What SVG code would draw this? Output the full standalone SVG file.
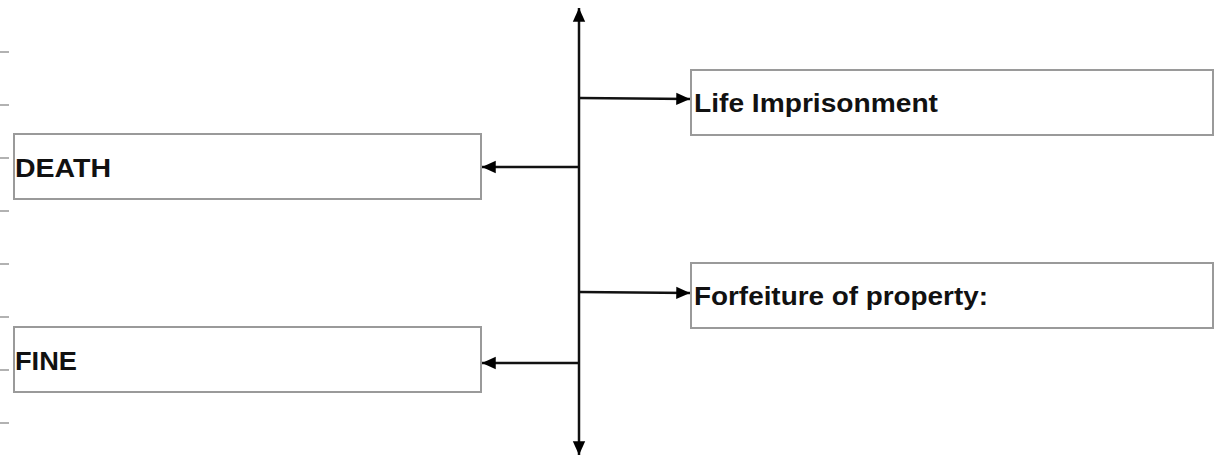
<svg xmlns="http://www.w3.org/2000/svg" width="1216" height="456" viewBox="0 0 1216 456">
<defs>
<marker id="ah" viewBox="0 0 10 10" refX="10" refY="5" markerWidth="5.5" markerHeight="5.5" orient="auto" markerUnits="strokeWidth">
<path d="M0,0.5 L10,5 L0,9.5 z" fill="#000"/>
</marker>
<style>
.box{fill:#fff;stroke:#9a9a9a;stroke-width:2}
.lbl{font-family:"Liberation Sans",Arial,sans-serif;font-weight:bold;font-size:25px;fill:#111}
.con{stroke:#111;stroke-width:2.5;fill:none;marker-end:url(#ah)}
.tick{stroke:#999;stroke-width:1.5}
</style>
</defs>
<rect width="1216" height="456" fill="#fff"/>
<g id="ticks">
<line class="tick" x1="0" y1="52" x2="9" y2="52"/>
<line class="tick" x1="0" y1="105" x2="9" y2="105"/>
<line class="tick" x1="0" y1="158" x2="9" y2="158"/>
<line class="tick" x1="0" y1="211" x2="9" y2="211"/>
<line class="tick" x1="0" y1="264" x2="9" y2="264"/>
<line class="tick" x1="0" y1="317" x2="9" y2="317"/>
<line class="tick" x1="0" y1="370" x2="9" y2="370"/>
<line class="tick" x1="0" y1="423" x2="9" y2="423"/>
</g>
<g id="life">
<rect class="box" x="691" y="70" width="522" height="65"/>
<text class="lbl" x="694" y="112" textLength="244" lengthAdjust="spacingAndGlyphs">Life Imprisonment</text>
</g>
<g id="death">
<rect class="box" x="14" y="134" width="467" height="65"/>
<text class="lbl" x="15" y="177" textLength="96" lengthAdjust="spacingAndGlyphs">DEATH</text>
</g>
<g id="forfeiture">
<rect class="box" x="691" y="263" width="522" height="65"/>
<text class="lbl" x="694" y="305" textLength="294" lengthAdjust="spacingAndGlyphs">Forfeiture of property:</text>
</g>
<g id="fine">
<rect class="box" x="14" y="327" width="467" height="65"/>
<text class="lbl" x="15" y="370" textLength="62" lengthAdjust="spacingAndGlyphs">FINE</text>
</g>
<g id="connectors">
<line class="con" x1="579" y1="230" x2="579" y2="8"/>
<line class="con" x1="579" y1="230" x2="579" y2="455"/>
<line class="con" x1="579" y1="98" x2="690" y2="99"/>
<line class="con" x1="579" y1="167" x2="482" y2="167"/>
<line class="con" x1="579" y1="292" x2="690" y2="293"/>
<line class="con" x1="579" y1="363" x2="482" y2="363"/>
</g>
</svg>
